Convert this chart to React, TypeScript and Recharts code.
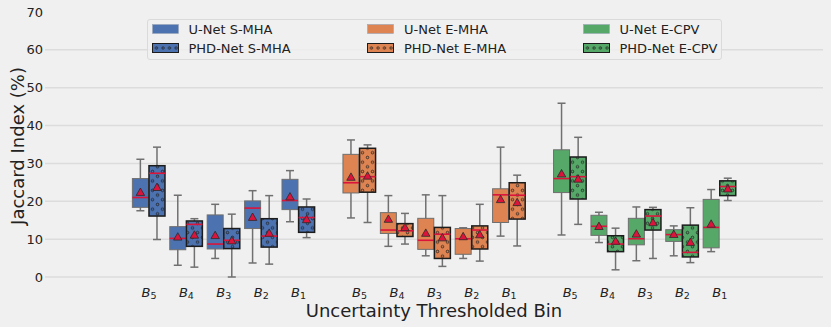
import React from "react";
import { ComposedChart, Bar, XAxis, YAxis, CartesianGrid, Label } from "recharts";

// bins from left to right inside each method group
const binLabels = ["5", "4", "3", "2", "1"];
const methods = ["S-MHA", "E-MHA", "E-CPV"];
const yTicks = [0, 10, 20, 30, 40, 50, 60, 70];
const gridValues = [0, 10, 20, 30, 40, 50, 60];

// per bin (B5..B1): [whisker low, q1, median, q3, whisker high, mean]
const uNetSMHA = [
  [17.5, 18.4, 21.0, 26.0, 31.1, 22.5],
  [3.1, 7.2, 10.2, 13.3, 21.6, 10.7],
  [4.9, 7.4, 8.7, 16.4, 19.2, 11.1],
  [3.7, 12.8, 18.2, 20.1, 22.8, 15.9],
  [14.6, 17.8, 20.2, 25.8, 28.1, 21.3],
];
const phdSMHA = [
  [9.9, 16.1, 27.4, 29.4, 34.3, 23.8],
  [2.6, 8.1, 13.9, 14.8, 15.4, 11.2],
  [0.0, 7.5, 9.7, 12.8, 16.6, 9.7],
  [3.4, 7.9, 10.8, 15.4, 21.5, 11.7],
  [10.4, 11.8, 15.7, 18.5, 20.6, 15.3],
];
const uNetEMHA = [
  [15.6, 22.2, 24.9, 32.4, 36.2, 26.5],
  [8.1, 11.5, 12.4, 17.0, 21.5, 15.4],
  [5.6, 7.3, 9.7, 15.5, 21.7, 11.7],
  [4.9, 6.0, 10.1, 12.8, 13.0, 10.8],
  [10.8, 14.4, 21.7, 23.3, 34.3, 20.6],
];
const phdEMHA = [
  [14.4, 22.4, 26.5, 34.0, 34.9, 26.8],
  [8.7, 10.7, 12.2, 14.1, 16.8, 13.2],
  [2.8, 4.9, 11.3, 13.1, 21.5, 10.5],
  [4.2, 7.4, 12.4, 13.5, 19.2, 11.3],
  [8.2, 15.3, 21.6, 24.9, 26.9, 19.8],
];
const uNetECPV = [
  [11.1, 22.3, 26.0, 33.6, 45.9, 27.4],
  [9.1, 11.0, 13.4, 16.3, 17.1, 13.5],
  [4.3, 8.5, 10.1, 15.5, 18.5, 11.5],
  [5.6, 9.4, 11.2, 12.5, 13.5, 11.4],
  [6.7, 7.7, 13.1, 20.5, 23.1, 14.1],
];
const phdECPV = [
  [13.9, 20.6, 26.5, 31.7, 36.9, 26.0],
  [1.9, 6.7, 8.7, 10.9, 12.9, 9.6],
  [4.9, 12.4, 16.1, 17.8, 18.4, 14.5],
  [3.8, 5.3, 6.5, 13.7, 18.3, 9.3],
  [20.2, 21.5, 23.9, 25.4, 26.1, 23.4],
];

const COLORS = ["#4c72b0", "#dd8452", "#55a868"];
const MEAN_RED = "#dc143c";
const FONT = "'DejaVu Sans', sans-serif";
const GROUP_STEP = 5.63;
const BOX_SHIFT = 0.222;

const series = [
  { name: "U-Net S-MHA", method: 0, stats: uNetSMHA, hatched: false },
  { name: "PHD-Net S-MHA", method: 0, stats: phdSMHA, hatched: true },
  { name: "U-Net E-MHA", method: 1, stats: uNetEMHA, hatched: false },
  { name: "PHD-Net E-MHA", method: 1, stats: phdEMHA, hatched: true },
  { name: "U-Net E-CPV", method: 2, stats: uNetECPV, hatched: false },
  { name: "PHD-Net E-CPV", method: 2, stats: phdECPV, hatched: true },
];

const rows = series.flatMap((s) =>
  s.stats.map((st, b) => ({
    x: s.method * GROUP_STEP + b + (s.hatched ? BOX_SHIFT : -BOX_SHIFT),
    lo: st[0],
    q1: st[1],
    med: st[2],
    q3: st[3],
    hi: st[4],
    mean: st[5],
    color: COLORS[s.method],
    hatched: s.hatched,
  }))
);

const tickPositions = methods.flatMap((_, g) => binLabels.map((_, b) => g * GROUP_STEP + b));

function BoxShape(props: any) {
  const { x, y, width, height, payload } = props;
  if (!payload || width == null) return null;
  const top = Math.min(y, y + height);
  const bottom = Math.max(y, y + height);
  const { lo, hi } = payload;
  const toY = (v: number) => bottom - ((v - lo) / (hi - lo)) * (bottom - top);
  const cx = x + width / 2;
  const half = 8;
  const cap = 4;
  const yq1 = toY(payload.q1);
  const yq3 = toY(payload.q3);
  const ym = toY(payload.med);
  const ymean = toY(payload.mean);
  const whisker = "#707070";
  return (
    <g>
      <line x1={cx} x2={cx} y1={toY(hi)} y2={toY(lo)} stroke={whisker} strokeWidth={1.5} />
      <line x1={cx - cap} x2={cx + cap} y1={toY(hi)} y2={toY(hi)} stroke={whisker} strokeWidth={1.5} />
      <line x1={cx - cap} x2={cx + cap} y1={toY(lo)} y2={toY(lo)} stroke={whisker} strokeWidth={1.5} />
      <rect
        x={cx - half}
        y={yq3}
        width={half * 2}
        height={yq1 - yq3}
        fill={payload.color}
        stroke={payload.hatched ? "#1c1c1c" : "#6f6f6f"}
        strokeWidth={payload.hatched ? 1.5 : 1}
      />
      {payload.hatched && (
        <rect x={cx - half} y={yq3} width={half * 2} height={yq1 - yq3} fill="url(#dots)" />
      )}
      <line x1={cx - half} x2={cx + half} y1={ym} y2={ym} stroke={MEAN_RED} strokeWidth={1.6} />
      <path
        d={`M${cx},${ymean - 3.8} L${cx + 4.2},${ymean + 3.6} L${cx - 4.2},${ymean + 3.6} Z`}
        fill={MEAN_RED}
        stroke="#2a2a2a"
        strokeWidth={0.8}
      />
    </g>
  );
}

function BinTick(props: any) {
  const { x, y, payload } = props;
  const idx = tickPositions.findIndex((p) => Math.abs(p - payload.value) < 1e-6);
  const n = binLabels[(idx < 0 ? 0 : idx) % binLabels.length];
  return (
    <text x={x} y={y + 20} textAnchor="middle" fill="#222" fontFamily={FONT} fontSize={13}>
      <tspan fontStyle="italic">B</tspan>
      <tspan fontSize={9.5} dy={2}>
        {n}
      </tspan>
    </text>
  );
}

function LegendPatch({ color, hatched }: { color: string; hatched: boolean }) {
  const id = `lg-${color.slice(1)}`;
  return (
    <svg width={27} height={10} style={{ display: "block" }}>
      <defs>
        <pattern id={id} width={6.5} height={10} patternUnits="userSpaceOnUse" x={1.5} y={0}>
          <circle cx={3} cy={5} r={1.2} fill="none" stroke="#1c1c1c" strokeWidth={0.8} />
        </pattern>
      </defs>
      <rect
        x={0.5}
        y={0.5}
        width={26}
        height={9}
        fill={color}
        stroke={hatched ? "#1c1c1c" : "#9aa6b8"}
        strokeWidth={hatched ? 1 : 0.6}
      />
      {hatched && <rect x={0.5} y={0.5} width={26} height={9} fill={`url(#${id})`} />}
    </svg>
  );
}

export default function App() {
  return (
    <div
      style={{
        position: "absolute",
        left: 0,
        top: 0,
        width: 831,
        height: 327,
        background: "#f0f0f0",
        fontFamily: FONT,
      }}
    >
      <ComposedChart
        width={831}
        height={327}
        data={rows}
        margin={{ top: 12, right: 8, bottom: 0, left: 0 }}
      >
        <defs>
          <pattern id="dots" width={10} height={9.4} patternUnits="userSpaceOnUse">
            <circle cx={2.5} cy={2.35} r={1.25} fill="none" stroke="#1c1c1c" strokeWidth={0.8} />
            <circle cx={7.5} cy={7.05} r={1.25} fill="none" stroke="#1c1c1c" strokeWidth={0.8} />
          </pattern>
        </defs>
        <CartesianGrid
          vertical={false}
          horizontalValues={gridValues}
          stroke="#dcdcdc"
          strokeWidth={1.5}
        />
        <XAxis
          type="number"
          dataKey="x"
          domain={[-2.78, 18.02]}
          ticks={tickPositions}
          interval={0}
          allowDataOverflow
          axisLine={false}
          tickLine={false}
          tickSize={0}
          tickMargin={0}
          height={50}
          tick={<BinTick />}
        >
          <Label
            content={(p: any) => {
              const vb = p.viewBox || { x: 45, y: 277, width: 778 };
              return (
                <text
                  x={vb.x + vb.width / 2}
                  y={vb.y + 40}
                  textAnchor="middle"
                  fill="#222"
                  fontFamily={FONT}
                  fontSize={18}
                >
                  Uncertainty Thresholded Bin
                </text>
              );
            }}
          />
        </XAxis>
        <YAxis
          type="number"
          domain={[0, 70]}
          ticks={yTicks}
          interval={0}
          width={45}
          axisLine={false}
          tickLine={false}
          tickSize={0}
          tickMargin={2}
          tick={{ fill: "#222", fontSize: 13, fontFamily: FONT }}
        >
          <Label
            content={(p: any) => {
              const vb = p.viewBox || { x: 0, y: 12, height: 265 };
              const cy = vb.y + vb.height / 2 + 1.5;
              return (
                <text
                  x={23.5}
                  y={cy}
                  transform={`rotate(-90, 23.5, ${cy})`}
                  textAnchor="middle"
                  fill="#222"
                  fontFamily={FONT}
                  fontSize={18}
                >
                  Jaccard Index (%)
                </text>
              );
            }}
          />
        </YAxis>
        <Bar
          dataKey={(d: any) => [d.lo, d.hi]}
          barSize={16}
          shape={(p: any) => <BoxShape {...p} />}
          isAnimationActive={false}
        />
      </ComposedChart>

      <div
        style={{
          position: "absolute",
          left: 146.5,
          top: 19,
          width: 575,
          height: 41,
          boxSizing: "border-box",
          border: "1px solid #dadada",
          borderRadius: 3,
          background: "rgba(240,240,240,0.8)",
        }}
      />
      {series.map((s, i) => {
        const col = s.method;
        const row = s.hatched ? 1 : 0;
        const top = 24 + row * 19;
        return (
          <React.Fragment key={s.name}>
            <div style={{ position: "absolute", left: 151.5 + col * 215.5, top }}>
              <LegendPatch color={COLORS[col]} hatched={s.hatched} />
            </div>
            <div
              style={{
                position: "absolute",
                left: 188.5 + col * 215.5,
                top: top - 2.5,
                fontSize: 13,
                lineHeight: "15px",
                color: "#222",
                whiteSpace: "nowrap",
              }}
            >
              {s.name}
            </div>
          </React.Fragment>
        );
      })}
    </div>
  );
}
